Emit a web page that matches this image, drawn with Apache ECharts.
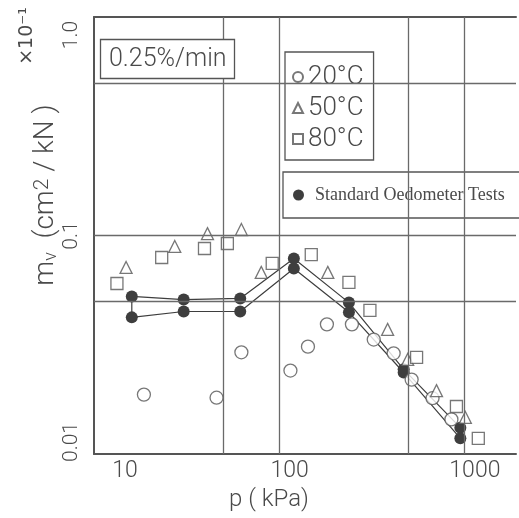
<!DOCTYPE html>
<html>
<head>
<meta charset="utf-8">
<title>mv - p</title>
<script src="https://cdn.jsdelivr.net/npm/echarts@6/dist/echarts.min.js"></script>
<style>
	html, body { margin: 0; padding: 0; background: #fff; }
	#chart { width: 519px; height: 518px; }
</style>
</head>
<body>
<div id="chart"></div>
<script type="text/javascript">
	// p (kPa) / mv (x10^-1 cm2/kN)
	var p20  = [18.6, 45.9, 62.5, 115, 143, 181, 247, 324, 415, 519, 673, 851];
	var mv20 = [0.0187, 0.0181, 0.0292, 0.0241, 0.0310, 0.0392, 0.0392, 0.0334, 0.0289, 0.0219, 0.0180, 0.0144];
	var p50  = [14.9, 27.3, 41.0, 62.5, 80.0, 183, 385, 494, 707, 1012];
	var mv50 = [0.0714, 0.0891, 0.102, 0.1065, 0.0678, 0.0678, 0.0372, 0.0271, 0.0195, 0.0147];
	var p80  = [13.3, 23.2, 39.5, 52.5, 91.7, 149, 238, 309, 552, 906, 1189];
	var mv80 = [0.0603, 0.0793, 0.0872, 0.0919, 0.0745, 0.0818, 0.0610, 0.0454, 0.0277, 0.0165, 0.0118];
	// standard oedometer tests, two runs
	var pStd   = [16.0, 30.5, 61.6, 120, 238, 470, 951];
	var mvStdA = [0.0526, 0.0509, 0.0515, 0.0785, 0.0493, 0.0244, 0.0132];
	var mvStdB = [0.0422, 0.0449, 0.0449, 0.0706, 0.0445, 0.0236, 0.0118];

	var xTicks = [10, 100, 1000];
	var yTicks = [0.01, 0.1, 1];
	var yTickText = ['0.01', '0.1', '1.0'];
	var xGrid = [50, 100, 500, 1000];
	var yGrid = [0.05, 0.1, 0.5];

	var ink = '#4a4a4a';
	var font = 'Roboto, "DejaVu Sans", sans-serif';

	function pairs(xs, ys) {
		return xs.map(function (x, i) { return [x, ys[i]]; });
	}
	function findTick(list, v) {
		for (var i = 0; i < list.length; i++) {
			if (Math.abs(list[i] - v) / list[i] < 1e-6) return i;
		}
		return -1;
	}

	var gridLines = [];
	xGrid.forEach(function (v) { gridLines.push({ xAxis: v }); });
	yGrid.forEach(function (v) { gridLines.push({ yAxis: v }); });

	var openStyle = { color: '#fff', borderColor: '#555', borderWidth: 1.3 };

	var myChart = echarts.init(document.getElementById('chart'), null, { renderer: 'canvas' });
	var option = {
		backgroundColor: '#fff',
		animation: false,
		grid: { left: 94, right: 0, top: 17, bottom: 64 },
		title: {
			text: '0.25%/min',
			left: 100, top: 39,
			padding: [8, 8, 7, 9],
			backgroundColor: '#fff',
			borderColor: '#555', borderWidth: 1.3,
			textStyle: { fontFamily: font, fontWeight: 300, fontSize: 25, color: ink }
		},
		legend: [
			{
				data: [
					{ name: '20°C', icon: 'circle' },
					{ name: '50°C', icon: 'triangle' },
					{ name: '80°C', icon: 'rect' }
				],
				orient: 'vertical',
				left: 285, top: 52,
				padding: [12, 10, 8, 7],
				itemGap: 5, itemWidth: 10, itemHeight: 10,
				backgroundColor: '#fff', borderColor: '#555', borderWidth: 1.3, borderRadius: 0,
				textStyle: { fontFamily: font, fontWeight: 300, fontSize: 26, lineHeight: 26, color: ink },
				selectedMode: false
			},
			{
				data: [{ name: 'Standard Oedometer Tests', icon: 'circle' }],
				left: 283, top: 172,
				padding: [13, 30, 13, 10],
				itemWidth: 11, itemHeight: 11,
				backgroundColor: '#fff', borderColor: '#555', borderWidth: 1.3, borderRadius: 0,
				textStyle: { fontFamily: '"Liberation Serif", serif', fontSize: 18, lineHeight: 20, color: ink, padding: [0, 0, 0, 6] },
				selectedMode: false
			}
		],
		graphic: [
			{
				type: 'text', x: 46, y: 195, rotation: Math.PI / 2,
				style: {
					text: '{t|m}{s|v}{t|  (cm}{u|2}{t| / kN )}',
					align: 'center', verticalAlign: 'middle', fill: ink,
					rich: {
						t: { fontFamily: font, fontWeight: 300, fontSize: 28, color: ink, verticalAlign: 'middle' },
						s: { fontFamily: font, fontWeight: 300, fontSize: 18, color: ink, verticalAlign: 'bottom' },
						u: { fontFamily: font, fontWeight: 300, fontSize: 21, color: ink, verticalAlign: 'top' }
					}
				}
			},
			{
				type: 'text', x: 27, y: 36, rotation: Math.PI / 2,
				style: {
					text: '×10⁻¹',
					fontFamily: '"DejaVu Sans", sans-serif',
					fontSize: 19,
					fill: ink,
					align: 'center', verticalAlign: 'middle'
				}
			}
		],
		xAxis: [
			{
				type: 'log', min: 10, max: 1900,
				axisLine: { show: true, lineStyle: { color: '#555', width: 2 } },
				axisTick: { show: false },
				splitLine: { show: false },
				axisLabel: {
					margin: 6,
					formatter: function (v) {
						var i = findTick(xTicks, v);
						if (i < 0) return '';
						return (i === 0 ? '{f|' : '{o|') + xTicks[i] + '}';
					},
					rich: {
						f: { fontFamily: font, fontWeight: 300, fontSize: 23, color: ink, padding: [0, 0, 0, 62] },
						o: { fontFamily: font, fontWeight: 300, fontSize: 23, color: ink, padding: [0, 0, 0, 21] }
					}
				},
				name: 'p ( kPa)',
				nameLocation: 'middle',
				nameGap: 30,
				nameTextStyle: { fontFamily: font, fontWeight: 300, fontSize: 24, color: ink, padding: [0, 72, 0, 0] }
			},
			{
				type: 'log', min: 10, max: 1900, position: 'top',
				axisLine: { show: true, lineStyle: { color: '#555', width: 2 } },
				axisTick: { show: false },
				axisLabel: { show: false },
				splitLine: { show: false }
			}
		],
		yAxis: {
			type: 'log', min: 0.01, max: 1,
			axisLine: { show: true, lineStyle: { color: '#555', width: 2 } },
			axisTick: { show: false },
			splitLine: { show: false },
			axisLabel: {
				rotate: 90,
				margin: 12,
				formatter: function (v) {
					var i = findTick(yTicks, v);
					if (i < 0) return '';
					if (i === 0) return '{lo|' + yTickText[i] + '}';
					if (i === 2) return '{hi|' + yTickText[i] + '}';
					return '{m|' + yTickText[i] + '}';
				},
				rich: {
					lo: { fontFamily: font, fontWeight: 300, fontSize: 21, color: ink, padding: [0, 0, 0, 24] },
					m: { fontFamily: font, fontWeight: 300, fontSize: 21, color: ink },
					hi: { fontFamily: font, fontWeight: 300, fontSize: 21, color: ink, padding: [0, 36, 0, 0] }
				}
			}
		},
		series: [
			{
				name: 'grid',
				type: 'line',
				data: [],
				z: 1,
				silent: true,
				markLine: {
					silent: true,
					symbol: ['none', 'none'],
					label: { show: false },
					lineStyle: { color: '#6a6a6a', width: 1.3, type: 'solid' },
					data: gridLines
				}
			},
			{
				name: 'Standard Oedometer Tests',
				type: 'line',
				data: pairs(pStd, mvStdA),
				symbol: 'circle', symbolSize: 12,
				itemStyle: { color: '#3e3e3e' },
				lineStyle: { color: '#3e3e3e', width: 1.2 },
				z: 3
			},
			{
				name: 'Standard Oedometer Tests',
				type: 'line',
				data: pairs(pStd, mvStdB),
				symbol: 'circle', symbolSize: 12,
				itemStyle: { color: '#3e3e3e' },
				lineStyle: { color: '#3e3e3e', width: 1.2 },
				z: 3
			},
			{
				name: 'link',
				type: 'line',
				data: [[pStd[0], mvStdA[0]], [pStd[0], mvStdB[0]]],
				symbol: 'none',
				lineStyle: { color: '#3e3e3e', width: 1.2 },
				z: 2
			},
			{
				name: '20°C', type: 'scatter', data: pairs(p20, mv20),
				symbol: 'circle', symbolSize: 13, itemStyle: openStyle, z: 4
			},
			{
				name: '50°C', type: 'scatter', data: pairs(p50, mv50),
				symbol: 'triangle', symbolSize: 12, itemStyle: openStyle, z: 4
			},
			{
				name: '80°C', type: 'scatter', data: pairs(p80, mv80),
				symbol: 'rect', symbolSize: 12, itemStyle: openStyle, z: 4
			}
		]
	};

	myChart.setOption(option);
</script>
</body>
</html>
